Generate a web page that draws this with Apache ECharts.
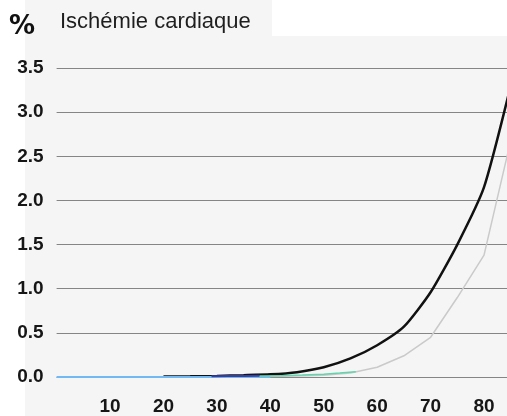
<!DOCTYPE html>
<html>
<head>
<meta charset="utf-8">
<script src="https://cdn.jsdelivr.net/npm/echarts@6/dist/echarts.min.js"></script>
<style>
  html, body { margin: 0; padding: 0; background: #fff; }
  #chart { width: 507px; height: 416px; }
</style>
</head>
<body>
<div id="chart"></div>
<script>
// ages (x) and values in %
var ages = [20, 25, 30, 35, 40, 45, 50, 55, 60, 65, 70, 75, 80, 85];
var blackValues = [0.005, 0.008, 0.012, 0.02, 0.03, 0.055, 0.11, 0.21, 0.36, 0.57, 0.96, 1.5, 2.15, 3.3];
var grayValues = [0, 0, 0, 0, 0.005, 0.01, 0.02, 0.045, 0.11, 0.24, 0.45, 0.9, 1.38, 2.68];

var blueAges = [0, 5, 10, 15, 20, 25, 30, 35, 40];
var blueValues = [0, 0, 0, 0, 0, 0, 0, 0, 0];
var navyAges = [29, 32, 35, 38];
var navyValues = [0.008, 0.01, 0.012, 0.015];
var greenAges = [38, 42, 46, 50, 53, 56];
var greenValues = [0.01, 0.015, 0.022, 0.032, 0.045, 0.06];

var yTicks = [0, 0.5, 1, 1.5, 2, 2.5, 3, 3.5];

function pairs(xs, ys) {
    return xs.map(function (x, i) { return [x, ys[i]]; });
}

var chart = echarts.init(document.getElementById('chart'));
var labelFont = {
    color: '#161616',
    fontFamily: 'Liberation Sans, Arial, sans-serif',
    fontWeight: 'bold',
    fontSize: 19
};

var option = {
    backgroundColor: '#ffffff',
    animation: false,
    graphic: [
        { type: 'rect', z: -10, shape: { x: 25, y: 36, width: 482, height: 380 }, style: { fill: '#f5f5f5' } },
        { type: 'rect', z: -10, shape: { x: 25, y: 0, width: 247, height: 36 }, style: { fill: '#f5f5f5' } },
        {
            type: 'text', left: 9, top: 14,
            style: { text: '%', fill: '#111', font: 'bold 26px "DejaVu Sans", sans-serif' }
        },
        {
            type: 'text', left: 60, top: 11,
            style: { text: 'Ischémie cardiaque', fill: '#1e1e1e', font: '22px "Liberation Sans", Arial, sans-serif' }
        }
    ],
    grid: { left: 56.6, right: 0, top: 68, bottom: 39 },
    xAxis: {
        type: 'value',
        min: 0,
        max: 84.3,
        interval: 10,
        axisLine: { show: false },
        axisTick: { show: false },
        splitLine: { show: false },
        axisLabel: Object.assign({
            margin: 20,
            showMaxLabel: false,
            formatter: function (v) { return (v > 0 && v % 10 === 0) ? String(v) : ''; }
        }, labelFont)
    },
    yAxis: {
        type: 'value',
        min: yTicks[0],
        max: yTicks[yTicks.length - 1],
        interval: 0.5,
        axisLine: { show: false },
        axisTick: { show: false },
        splitLine: { lineStyle: { color: '#858585', width: 1 } },
        axisLabel: Object.assign({
            margin: 13,
            formatter: function (v) { return v.toFixed(1); }
        }, labelFont)
    },
    series: [
        {
            type: 'line', data: pairs(ages, grayValues), symbol: 'none', z: 2,
            lineStyle: { color: '#cacaca', width: 1.5 }
        },
        {
            type: 'line', data: pairs(ages, blackValues), symbol: 'none', z: 3, smooth: 0.2,
            lineStyle: { color: '#111111', width: 2.5 }
        },
        {
            type: 'line', data: pairs(blueAges, blueValues), symbol: 'none', z: 4,
            lineStyle: { color: '#72b8f2', width: 2 }
        },
        {
            type: 'line', data: pairs(navyAges, navyValues), symbol: 'none', z: 5,
            lineStyle: { color: '#3d3d9e', width: 2 }
        },
        {
            type: 'line', data: pairs(greenAges, greenValues), symbol: 'none', z: 5,
            lineStyle: { color: '#5fd4ae', width: 1.5 }
        }
    ]
};

chart.setOption(option);
</script>
</body>
</html>
